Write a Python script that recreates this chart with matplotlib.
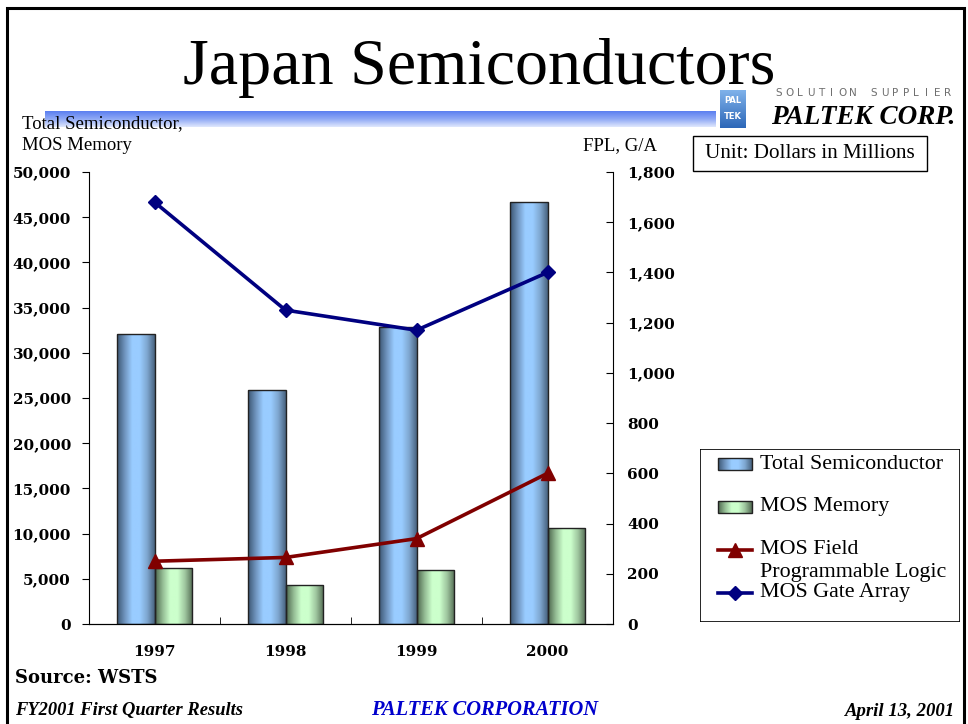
import numpy as np
import matplotlib
matplotlib.use('Agg')
import matplotlib.pyplot as plt
from matplotlib.colors import LinearSegmentedColormap
from matplotlib.patches import Rectangle
from matplotlib.lines import Line2D

years = ['1997', '1998', '1999', '2000']
total_semi = [32100, 25900, 32900, 46700]
mos_memory = [6200, 4300, 6000, 10600]
mos_fpl = [250, 265, 340, 600]
mos_gate_array = [1680, 1250, 1170, 1400]

left_ticks = list(range(0, 50001, 5000))
right_ticks = list(range(0, 1801, 200))

W, H = 968, 724


def fx(px):
    return px / W


def fy(py):
    return 1 - py / H


serif = 'Liberation Serif'
num_font = 'DejaVu Serif'

blue_cmap = LinearSegmentedColormap.from_list(
    'cyl_blue', ['#3b5672', '#6f93bd', '#99ccff', '#99ccff', '#7ea6cf', '#48637f'])
green_cmap = LinearSegmentedColormap.from_list(
    'cyl_green', ['#4d664d', '#93bb93', '#ccffcc', '#ccffcc', '#9dc49d', '#536b53'])
grad = np.linspace(0, 1, 200).reshape(1, -1)

fig = plt.figure(figsize=(W / 100, H / 100), dpi=100)

# slide frame
fig.add_artist(Rectangle((fx(7), fy(740)), fx(964) - fx(7), fy(8) - fy(740),
                         transform=fig.transFigure, fill=False, lw=2.2,
                         edgecolor='black'))

# blue gradient strip under the title
strip = fig.add_axes([fx(45), fy(127), fx(716) - fx(45), fy(111) - fy(127)])
vgrad = np.linspace(0, 1, 50).reshape(-1, 1)
strip_cmap = LinearSegmentedColormap.from_list('strip', ['#5b7ff0', '#8fa9f5', '#dfe7fd'])
strip.imshow(vgrad, cmap=strip_cmap, aspect='auto', extent=(0, 1, 0, 1))
strip.axis('off')

fig.text(fx(479), fy(84), 'Japan Semiconductors', ha='center', va='baseline',
         fontsize=47.5, family=serif)

# logo
logo = fig.add_axes([fx(720), fy(128), fx(746) - fx(720), fy(90) - fy(128)])
logo.imshow(np.linspace(0, 1, 50).reshape(-1, 1),
            cmap=LinearSegmentedColormap.from_list('lg', ['#7fb2ea', '#2d67b8']),
            aspect='auto', extent=(0, 1, 0, 1))
logo.text(0.5, 0.72, 'PAL', color='white', ha='center', va='center', fontsize=6,
          fontweight='bold', family='DejaVu Sans')
logo.text(0.5, 0.3, 'TEK', color='white', ha='center', va='center', fontsize=6,
          fontweight='bold', family='DejaVu Sans')
logo.axis('off')
tagline = 'SOLUTION SUPPLIER'
step = (948 - 779) / (len(tagline) - 1)
for i, ch in enumerate(tagline):
    fig.text(fx(779 + i * step), fy(93), ch, ha='center', va='center',
             fontsize=7.5, color='#6e6e6e', family='DejaVu Sans')
fig.text(fx(955), fy(118), 'PALTEK CORP.', ha='right', va='center', fontsize=19.5,
         fontweight='bold', style='italic', family=serif)

# main axes
ax = fig.add_axes([fx(89), fy(624), fx(613) - fx(89), fy(172) - fy(624)])
x = np.arange(len(years))
bw = 0.29
bars_total = ax.bar(x - bw / 2, total_semi, bw, facecolor='none',
                    edgecolor='#222222', lw=1, zorder=3)
bars_mem = ax.bar(x + bw / 2, mos_memory, bw, facecolor='none',
                  edgecolor='#222222', lw=1, zorder=3)
for bars, cmap in ((bars_total, blue_cmap), (bars_mem, green_cmap)):
    for b in bars:
        x0, w, h = b.get_x(), b.get_width(), b.get_height()
        im = ax.imshow(grad, cmap=cmap, extent=(x0, x0 + w, 0, h),
                       aspect='auto', zorder=2, interpolation='bilinear')
        im.set_clip_path(b)

ax.set_xlim(-0.5, len(years) - 0.5)
ax.set_ylim(0, 50000)
ax.set_aspect('auto')
ax.set_yticks(left_ticks, labels=[f'{v:,}' for v in left_ticks],
              family=num_font, fontweight='bold', fontsize=11)
ax.set_xticks(x, labels=years, family=num_font, fontweight='bold', fontsize=11)
ax.set_xticks(x[:-1] + 0.5, minor=True)
ax.tick_params(axis='x', which='major', length=0, pad=15)
ax.tick_params(axis='x', which='minor', direction='in', length=5)
ax.tick_params(axis='y', direction='out', length=5, pad=8)
ax.spines['top'].set_visible(False)
ax.spines['right'].set_visible(False)

ax2 = ax.twinx()
ax2.plot(x, mos_fpl, color='#800000', lw=2.6, marker='^', markersize=10)
ax2.plot(x, mos_gate_array, color='#000080', lw=2.6, marker='D', markersize=7)
ax2.set_ylim(0, 1800)
ax2.set_yticks(right_ticks, labels=[f'{v:,}' for v in right_ticks],
               family=num_font, fontweight='bold', fontsize=11)
ax2.tick_params(axis='y', direction='in', length=5, pad=10)
ax2.spines['top'].set_visible(False)
ax2.spines['left'].set_visible(False)

# axis captions
fig.text(fx(22), fy(124), 'Total Semiconductor,', ha='left', va='center',
         fontsize=13.5, family=serif)
fig.text(fx(22), fy(146), 'MOS Memory', ha='left', va='center',
         fontsize=13.5, family=serif)
fig.text(fx(583), fy(146), 'FPL, G/A', ha='left', va='center',
         fontsize=13.5, family=serif)

# unit box
fig.add_artist(Rectangle((fx(693), fy(171)), fx(927) - fx(693), fy(136) - fy(171),
                         transform=fig.transFigure, fill=False, lw=1, edgecolor='black'))
fig.text(fx(810), fy(154), 'Unit: Dollars in Millions', ha='center', va='center',
         fontsize=15.2, family=serif)

# legend
lax = fig.add_axes([fx(700), fy(622), fx(960) - fx(700), fy(449) - fy(622)])
lax.set_xlim(700, 960)
lax.set_ylim(622, 449)
lax.axis('off')
lax.add_patch(Rectangle((700, 449), 260, 173, fill=False, lw=1.2, edgecolor='black'))
for cy, cmap in ((464, blue_cmap), (507, green_cmap)):
    sw = Rectangle((718, cy - 6), 34, 12, facecolor='none', edgecolor='#222222', lw=1, zorder=3)
    lax.add_patch(sw)
    im = lax.imshow(grad, cmap=cmap, extent=(718, 752, cy + 6, cy - 6),
                    aspect='auto', zorder=2)
    im.set_clip_path(sw)
lax.set_xlim(700, 960)
lax.set_ylim(622, 449)
lax.add_line(Line2D([718, 752], [550, 550], color='#800000', lw=2.6))
lax.plot([735], [550], marker='^', color='#800000', markersize=10)
lax.add_line(Line2D([718, 752], [593, 593], color='#000080', lw=2.6))
lax.plot([735], [593], marker='D', color='#000080', markersize=7)
leg_font = dict(ha='left', va='center', fontsize=15.8, family=serif)
lax.text(760, 464, 'Total Semiconductor', **leg_font)
lax.text(760, 507, 'MOS Memory', **leg_font)
lax.text(760, 550, 'MOS Field', **leg_font)
lax.text(760, 572, 'Programmable Logic', **leg_font)
lax.text(760, 593, 'MOS Gate Array', **leg_font)

# source and footer
fig.text(fx(15), fy(678), 'Source: WSTS', ha='left', va='center',
         fontsize=13, fontweight='bold', family=num_font)
fig.text(fx(15), fy(711), 'FY2001 First Quarter Results', ha='left', va='center',
         fontsize=13.3, fontweight='bold', style='italic', family=serif)
fig.text(fx(485), fy(710), 'PALTEK CORPORATION', ha='center', va='center',
         fontsize=14.8, fontweight='bold', style='italic', family=serif, color='#0000cc')
fig.text(fx(955), fy(711), 'April 13, 2001', ha='right', va='center',
         fontsize=13.5, fontweight='bold', style='italic', family=serif)

fig.savefig('out.png', dpi=100)
